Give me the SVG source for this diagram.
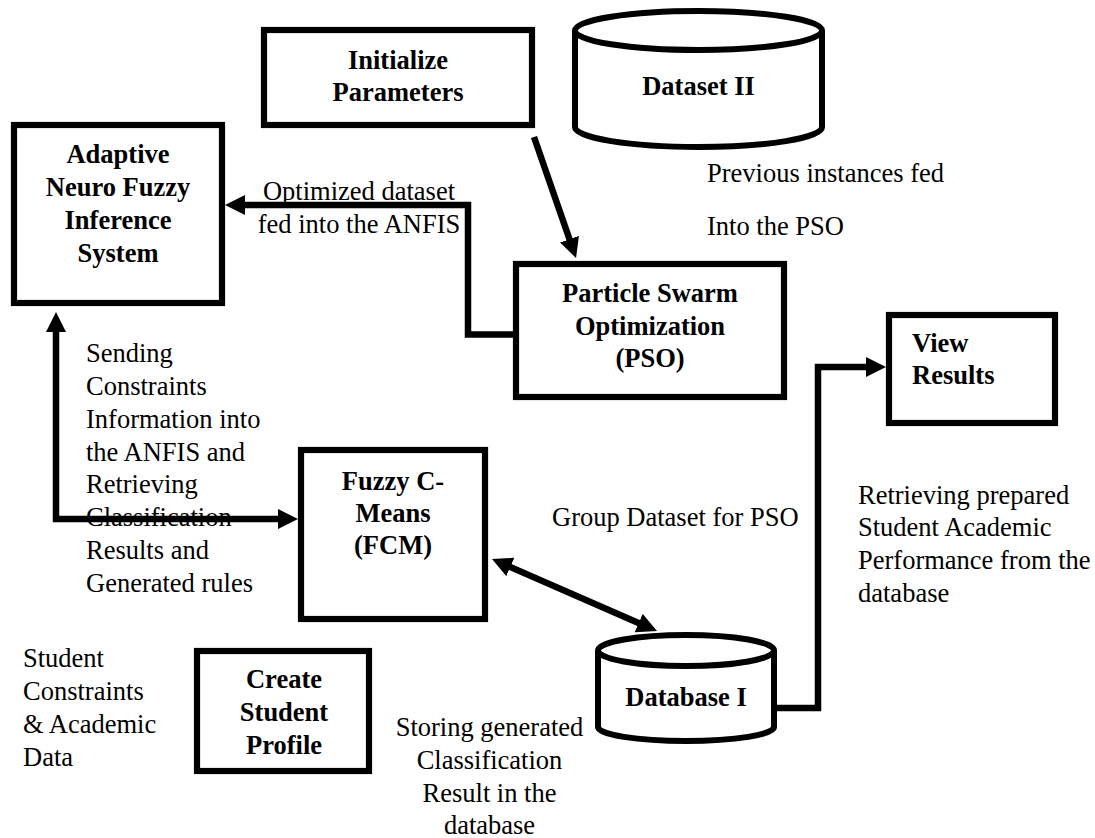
<svg xmlns="http://www.w3.org/2000/svg" width="1095" height="838" viewBox="0 0 1095 838">
<style>
.box{fill:#fff;stroke:#000;stroke-width:6.2}
.cyl{fill:#fff;stroke:#000;stroke-width:6}
.nt{font-family:"Liberation Serif","Times New Roman",serif;font-size:26.5px;font-weight:bold;fill:#000;text-anchor:middle}
.lb{font-family:"Liberation Serif","Times New Roman",serif;font-size:26.5px;fill:#000}
.ln{fill:none;stroke:#000;stroke-width:6.5}
</style>
<defs>
<marker id="ah" markerUnits="userSpaceOnUse" markerWidth="20" markerHeight="20" refX="8" refY="10" orient="auto-start-reverse">
<path d="M0,0 L20,10 L0,20 z" fill="#000"/>
</marker>
</defs>
<rect width="1095" height="838" fill="#fff"/>

<g id="init">
<rect class="box" x="264" y="30" width="268" height="95"/>
<text class="nt" x="398" y="69">Initialize</text>
<text class="nt" x="398" y="101">Parameters</text>
</g>

<g id="dataset2">
<path class="cyl" d="M575,30.5 V127 A123.5,20 0 0 0 822,127 V30.5"/>
<ellipse class="cyl" cx="698.5" cy="30.5" rx="123.5" ry="19.5"/>
<text class="nt" x="698.5" y="95">Dataset II</text>
</g>

<g id="anfis">
<rect class="box" x="14" y="125" width="208" height="178"/>
<text class="nt" x="118" y="163">Adaptive</text>
<text class="nt" x="118" y="196">Neuro Fuzzy</text>
<text class="nt" x="118" y="229">Inference</text>
<text class="nt" x="118" y="262">System</text>
</g>

<g id="pso">
<rect class="box" x="516" y="264" width="268" height="133"/>
<text class="nt" x="650" y="302">Particle Swarm</text>
<text class="nt" x="650" y="335">Optimization</text>
<text class="nt" x="650" y="367">(PSO)</text>
</g>

<g id="view">
<rect class="box" x="889" y="315" width="166" height="108"/>
<text class="nt" x="912" y="352" style="text-anchor:start">View</text>
<text class="nt" x="912" y="384" style="text-anchor:start">Results</text>
</g>

<g id="fcm">
<rect class="box" x="301" y="450" width="184" height="169"/>
<text class="nt" x="393" y="490">Fuzzy C-</text>
<text class="nt" x="393" y="522">Means</text>
<text class="nt" x="393" y="554">(FCM)</text>
</g>

<g id="profile">
<rect class="box" x="197" y="651" width="172" height="120"/>
<text class="nt" x="284" y="688">Create</text>
<text class="nt" x="284" y="721">Student</text>
<text class="nt" x="284" y="754">Profile</text>
</g>

<g id="database1">
<path class="cyl" d="M598,650.5 V727 A88,14 0 0 0 774,727 V650.5"/>
<ellipse class="cyl" cx="686" cy="650.5" rx="88" ry="15.5"/>
<text class="nt" x="686" y="706">Database I</text>
</g>

<g id="labels">
<text class="lb" x="359" y="200" text-anchor="middle">Optimized dataset</text>
<text class="lb" x="359" y="233" text-anchor="middle">fed into the ANFIS</text>
<text class="lb" x="707" y="182">Previous instances fed</text>
<text class="lb" x="707" y="235">Into the PSO</text>
<text class="lb" x="86" y="362">Sending</text>
<text class="lb" x="86" y="395">Constraints</text>
<text class="lb" x="86" y="428">Information into</text>
<text class="lb" x="86" y="461">the ANFIS and</text>
<text class="lb" x="86" y="493">Retrieving</text>
<text class="lb" x="86" y="526">Classification</text>
<text class="lb" x="86" y="559">Results and</text>
<text class="lb" x="86" y="592">Generated rules</text>
<text class="lb" x="552" y="526">Group Dataset for PSO</text>
<text class="lb" x="858" y="504">Retrieving prepared</text>
<text class="lb" x="858" y="536">Student Academic</text>
<text class="lb" x="858" y="569">Performance from the</text>
<text class="lb" x="858" y="602">database</text>
<text class="lb" x="23" y="667">Student</text>
<text class="lb" x="23" y="700">Constraints</text>
<text class="lb" x="23" y="733">&amp; Academic</text>
<text class="lb" x="23" y="766">Data</text>
<text class="lb" x="489.5" y="736" text-anchor="middle">Storing generated</text>
<text class="lb" x="489.5" y="769" text-anchor="middle">Classification</text>
<text class="lb" x="489.5" y="802" text-anchor="middle">Result in the</text>
<text class="lb" x="489.5" y="834" text-anchor="middle">database</text>
</g>

<g id="connectors">
<path class="ln" d="M534,137 L572.1,246.7" marker-end="url(#ah)"/>
<path class="ln" d="M516,334.5 H468 V205 H237" marker-end="url(#ah)"/>
<path class="ln" d="M56,324 V519 H286" marker-start="url(#ah)" marker-end="url(#ah)"/>
<path class="ln" d="M503,563.8 L646,626.2" marker-start="url(#ah)" marker-end="url(#ah)"/>
<path class="ln" d="M774,708 H818 V367 H874" marker-end="url(#ah)"/>
</g>
</svg>
